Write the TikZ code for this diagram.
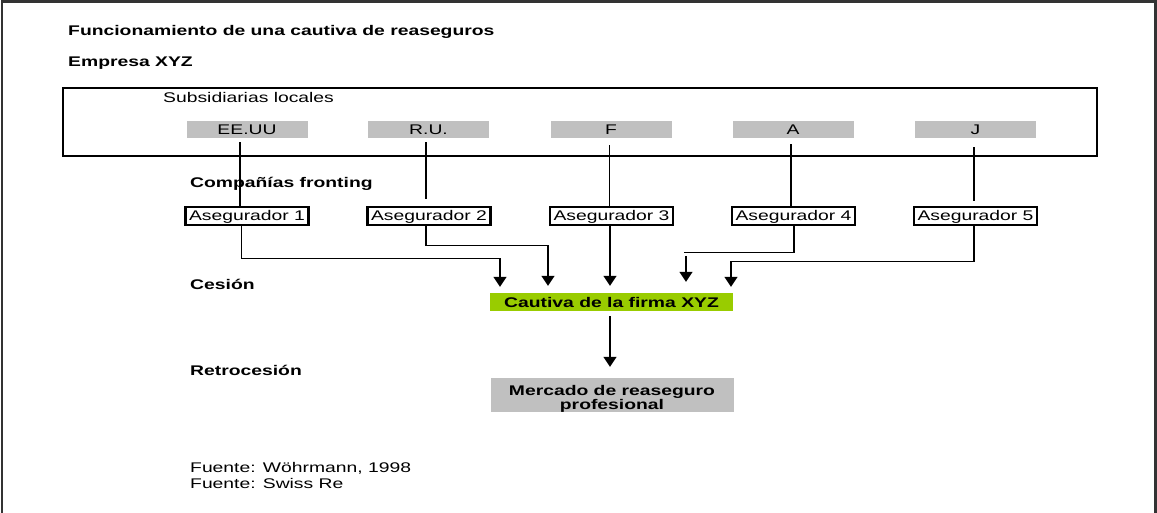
\documentclass[tikz,border=0pt]{standalone}
\usepackage{fontspec}
\setmainfont{Liberation Sans}[FakeStretch=1.38]
\usetikzlibrary{arrows.meta}
\definecolor{boxgray}{HTML}{C0C0C0}
\definecolor{capgreen}{HTML}{99CC00}
\begin{document}
\begin{tikzpicture}[x=1pt,y=-1pt,
  font=\fontsize{14}{16}\selectfont,
  lbl/.style={anchor=base west, inner sep=0pt},
  hd/.style={lbl, font=\fontsize{14}{16}\selectfont\bfseries},
  sub/.style={fill=boxgray, minimum width=121pt, minimum height=17pt, inner sep=0pt, text height=10pt, text depth=0pt},
  aseg/.style={draw=black, line width=2.2pt, fill=white, minimum width=123pt, minimum height=18pt, inner sep=0pt, text height=10pt, text depth=0pt},
  conn/.style={line width=1.2pt},
  arr/.style={conn, -{Triangle[width=13pt,length=10pt]}},
]
\useasboundingbox (0,0) rectangle (1157,513);
\begin{scope}
  \clip (0,0) rectangle (1157,513);
  \draw[line width=2.5pt, black!80] (2,530) -- (2,1.5) -- (1155.5,1.5) -- (1155.5,530);
\end{scope}

% titles
\node[hd] (title) at (68,36) {Funcionamiento de una cautiva de reaseguros};
\node[hd] (empresa) at (68,66.5) {Empresa XYZ};

% group box
\draw[line width=2.2pt] (63,88) rectangle (1097,156);
\node[lbl] (subl) at (163,102.5) {Subsidiarias locales};

% subsidiaries
\node[sub] (s1) at (247,129.5) {EE.UU};
\node[sub] (s2) at (428.5,129.5) {R.U.};
\node[sub] (s3) at (611,129.5) {F};
\node[sub] (s4) at (793,129.5) {A};
\node[sub] (s5) at (975.5,129.5) {J};

% row labels
\node[hd] (comp) at (190,187.5) {Compañías fronting};
\node[hd] (ces) at (190,289) {Cesión};
\node[hd] (retro) at (190,375) {Retrocesión};

% insurers
\node[aseg] (a1) at (247,216) {Asegurador 1};
\node[aseg] (a2) at (429,216) {Asegurador 2};
\node[aseg] (a3) at (611.5,216) {Asegurador 3};
\node[aseg] (a4) at (793.5,216) {Asegurador 4};
\node[aseg] (a5) at (975.5,216) {Asegurador 5};

% captive and market
\node[fill=capgreen, minimum width=243pt, minimum height=18pt, inner sep=0pt, text height=10pt, text depth=0pt, font=\fontsize{14}{16}\selectfont\bfseries] (cap) at (611.5,302) {Cautiva de la firma XYZ};
\node[fill=boxgray, minimum width=243pt, minimum height=34pt, inner sep=0pt] (merc) at (612,395) {};
\node[align=center, inner sep=0pt, font=\fontsize{14}{14}\selectfont\bfseries] (merct) at ([yshift=-3.6pt]merc.center) {Mercado de reaseguro\\profesional};

% subsidiaries -> insurers
\draw[conn] ([xshift=-7pt,yshift=-4pt]s1.south) -- ([xshift=-7pt]a1.north);
\draw[conn] ([xshift=-2.5pt,yshift=-4pt]s2.south) -- ([xshift=-3pt,yshift=7pt]a2.north);
\draw[conn] ([xshift=-1.5pt,yshift=-7pt]s3.south) -- ([xshift=-2pt]a3.north);
\draw[conn] ([xshift=-2pt,yshift=-6pt]s4.south) -- ([xshift=-2.5pt]a4.north);
\draw[conn] ([xshift=-1.5pt,yshift=-9pt]s5.south) -- ([xshift=-1.5pt,yshift=5pt]a5.north);

% insurers -> captive
\draw[arr] ([xshift=-5.5pt]a1.south) |- ([xshift=-111.5pt,yshift=34pt]cap.north) -- ([xshift=-111.5pt,yshift=6pt]cap.north);
\draw[arr] ([xshift=-3pt]a2.south) |- ([xshift=-63.5pt,yshift=47pt]cap.north) -- ([xshift=-63.5pt,yshift=7pt]cap.north);
\draw[arr] ([xshift=-1.5pt]a3.south) -- ([xshift=-1.5pt,yshift=7pt]cap.north);
\draw[conn] ([xshift=0.5pt]a4.south) |- ([xshift=72pt,yshift=40pt]cap.north);
\draw[arr] ([xshift=74.5pt,yshift=37pt]cap.north) -- ([xshift=74.5pt,yshift=11pt]cap.north);
\draw[arr] ([xshift=-1.5pt]a5.south) |- ([xshift=119.5pt,yshift=31pt]cap.north) -- ([xshift=119.5pt,yshift=6pt]cap.north);

% captive -> market
\draw[arr] ([xshift=-1.5pt,yshift=-5pt]cap.south) -- ([xshift=-2pt,yshift=11pt]merc.north);

% sources
\node[lbl] (f1) at (190,472) {Fuente: Wöhrmann, 1998};
\node[lbl] (f2) at (190,488) {Fuente: Swiss Re};
\end{tikzpicture}
\end{document}
